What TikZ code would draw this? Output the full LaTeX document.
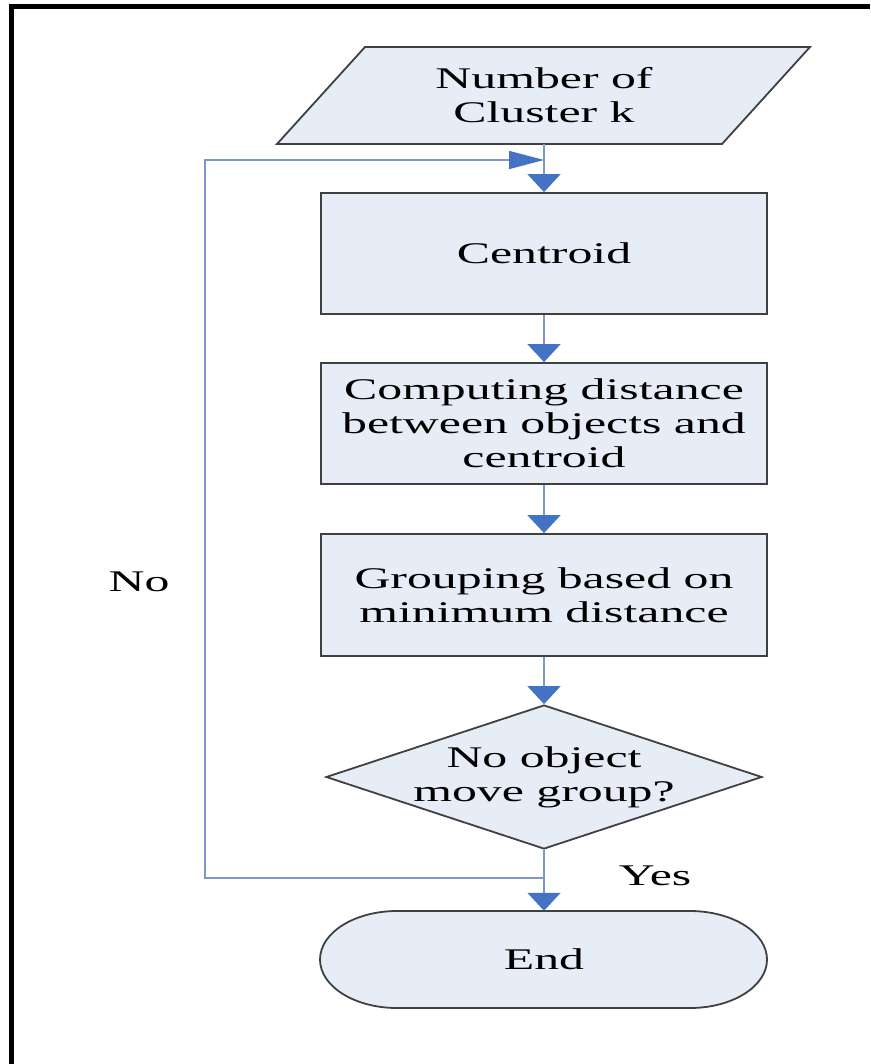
\documentclass[tikz,border=0pt]{standalone}
\usepackage{fontspec}
\setmainfont[FakeStretch=1.66]{Liberation Serif}
\usetikzlibrary{arrows.meta,shapes.geometric}
\definecolor{boxfill}{RGB}{231,237,247}
\definecolor{boxline}{RGB}{64,64,64}
\definecolor{connline}{RGB}{125,150,205}
\definecolor{tipblue}{RGB}{68,114,196}
\begin{document}
\begin{tikzpicture}[x=1pt,y=1pt,
 txt/.style={font=\fontsize{30}{34}\selectfont, align=center, inner sep=0pt},
 shapeline/.style={draw=boxline, fill=boxfill, line width=1.8pt},
 procbox/.style={txt, shapeline, minimum width=446pt, minimum height=#1},
 conn/.style={draw=connline, line width=1.6pt},
 downarr/.style={conn, -{Triangle[width=33pt,length=18pt,color=tipblue,fill=tipblue]}},
 rightarr/.style={conn, -{Triangle[width=18pt,length=35pt,color=tipblue,fill=tipblue]}},
]
\useasboundingbox (0,0) rectangle (870,-1064);
% frame
\fill[black] (9,-4) rectangle (870,-9);
\fill[black] (9,-4) rectangle (14,-1064);

% input parallelogram
\draw[shapeline] (365,-47) -- (810,-47) -- (722,-144) -- (277,-144) -- cycle;
\node[txt, minimum height=97pt] (inp) at (544,-95.5) {Number of\\Cluster k};

% process boxes
\node[procbox=121pt] (cen) at (544,-253.5) {Centroid};
\node[procbox=121pt] (dist) at (544,-423.5) {Computing distance\\between objects and\\centroid};
\node[procbox=122pt] (grp) at (544,-595) {Grouping based on\\minimum distance};

% decision
\node[diamond, shapeline, minimum width=436pt, minimum height=144pt, inner sep=0pt] (dec) at (544,-777) {};
\node[txt] (dectxt) at (544,-777) {No object\\move group?};

% terminator
\draw[shapeline] (397,-911) -- (690,-911)
  arc[start angle=90, end angle=-90, x radius=77, y radius=48.5]
  -- (397,-1008)
  arc[start angle=270, end angle=90, x radius=77, y radius=48.5] -- cycle;
\node[txt, minimum width=447pt, minimum height=97pt] (fin) at (544,-959.5) {End};

% connectors
\draw[downarr] (inp.south) -- (cen.north);
\draw[downarr] (cen.south) -- (dist.north);
\draw[downarr] (dist.south) -- (grp.north);
\draw[downarr] (grp.south) -- (dec.north);
\draw[downarr] (dec.south) -- (fin.north);

\coordinate (j) at (544,-878);
\coordinate (lc) at (205,-878);
\coordinate (tc) at (205,-160);
\coordinate (m) at (544,-160);
\draw[rightarr] (j) -- (lc) -- (tc) -- (m);

% labels
\node[txt] (no) at (139,-582) {No};
\node[txt] (yes) at (655,-876) {Yes};
\end{tikzpicture}
\end{document}
